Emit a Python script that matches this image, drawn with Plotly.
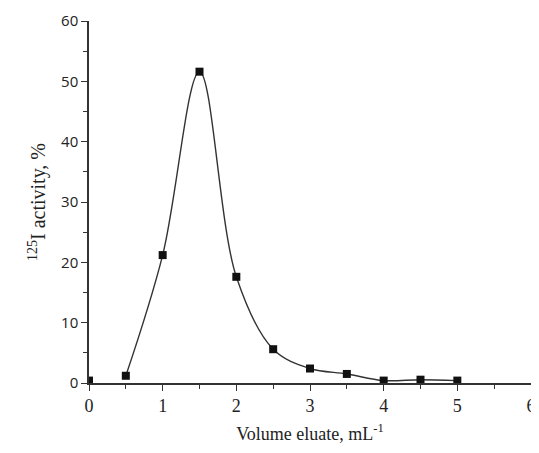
import plotly.graph_objects as go

volume = [0, 0.5, 1.0, 1.5, 2.0, 2.5, 3.0, 3.5, 4.0, 4.5, 5.0]
activity = [0.4, 1.2, 21.2, 51.6, 17.6, 5.6, 2.4, 1.5, 0.4, 0.55, 0.4]
x_ticks = [0, 1, 2, 3, 4, 5, 6]
y_ticks = [0, 10, 20, 30, 40, 50, 60]

curve_x = volume[1:]
curve_y = activity[1:]

fig = go.Figure()
fig.add_trace(go.Scatter(
    x=curve_x, y=curve_y, mode="lines",
    line=dict(color="#333333", width=1.4, shape="spline", smoothing=1.0),
    hoverinfo="skip", showlegend=False,
))
fig.add_trace(go.Scatter(
    x=volume, y=activity, mode="markers",
    marker=dict(symbol="square", size=8, color="#111111"),
    showlegend=False,
))

# page body has an 8px margin, so the figure is sized/offset accordingly
fig.update_layout(
    width=523, height=437,
    margin=dict(l=81, r=0, t=13, b=62, autoexpand=False),
    paper_bgcolor="white", plot_bgcolor="white",
    font=dict(family="Liberation Serif", size=18, color="#222222"),
)
fig.update_xaxes(
    range=[0, 6], tickmode="array", tickvals=x_ticks,
    ticks="outside", ticklen=6, tickwidth=1.3, tickcolor="#333333",
    minor=dict(ticks="outside", ticklen=4, dtick=0.5, tickwidth=1.3, tickcolor="#333333"),
    showline=True, linecolor="#333333", linewidth=1.5,
    showgrid=False, zeroline=False, automargin=False,
    ticklabeloverflow="allow",
    tickfont=dict(family="Liberation Serif", size=18, color="#222222"),
    title=dict(text="Volume eluate, mL<sup>-1</sup>", standoff=12,
               font=dict(family="Liberation Serif", size=18)),
)
fig.update_yaxes(
    range=[0, 60], tickmode="array", tickvals=y_ticks,
    ticks="outside", ticklen=6, tickwidth=1.3, tickcolor="#333333",
    minor=dict(ticks="outside", ticklen=4, dtick=5, tickwidth=1.3, tickcolor="#333333"),
    showline=True, linecolor="#333333", linewidth=1.5,
    showgrid=False, zeroline=False, automargin=False,
    tickfont=dict(family="Open Sans", size=15, color="#222222"),
    title=dict(text="<sup>125</sup>I activity, %", standoff=10,
               font=dict(family="Liberation Serif", size=20)),
)

fig.write_html("out.html")
